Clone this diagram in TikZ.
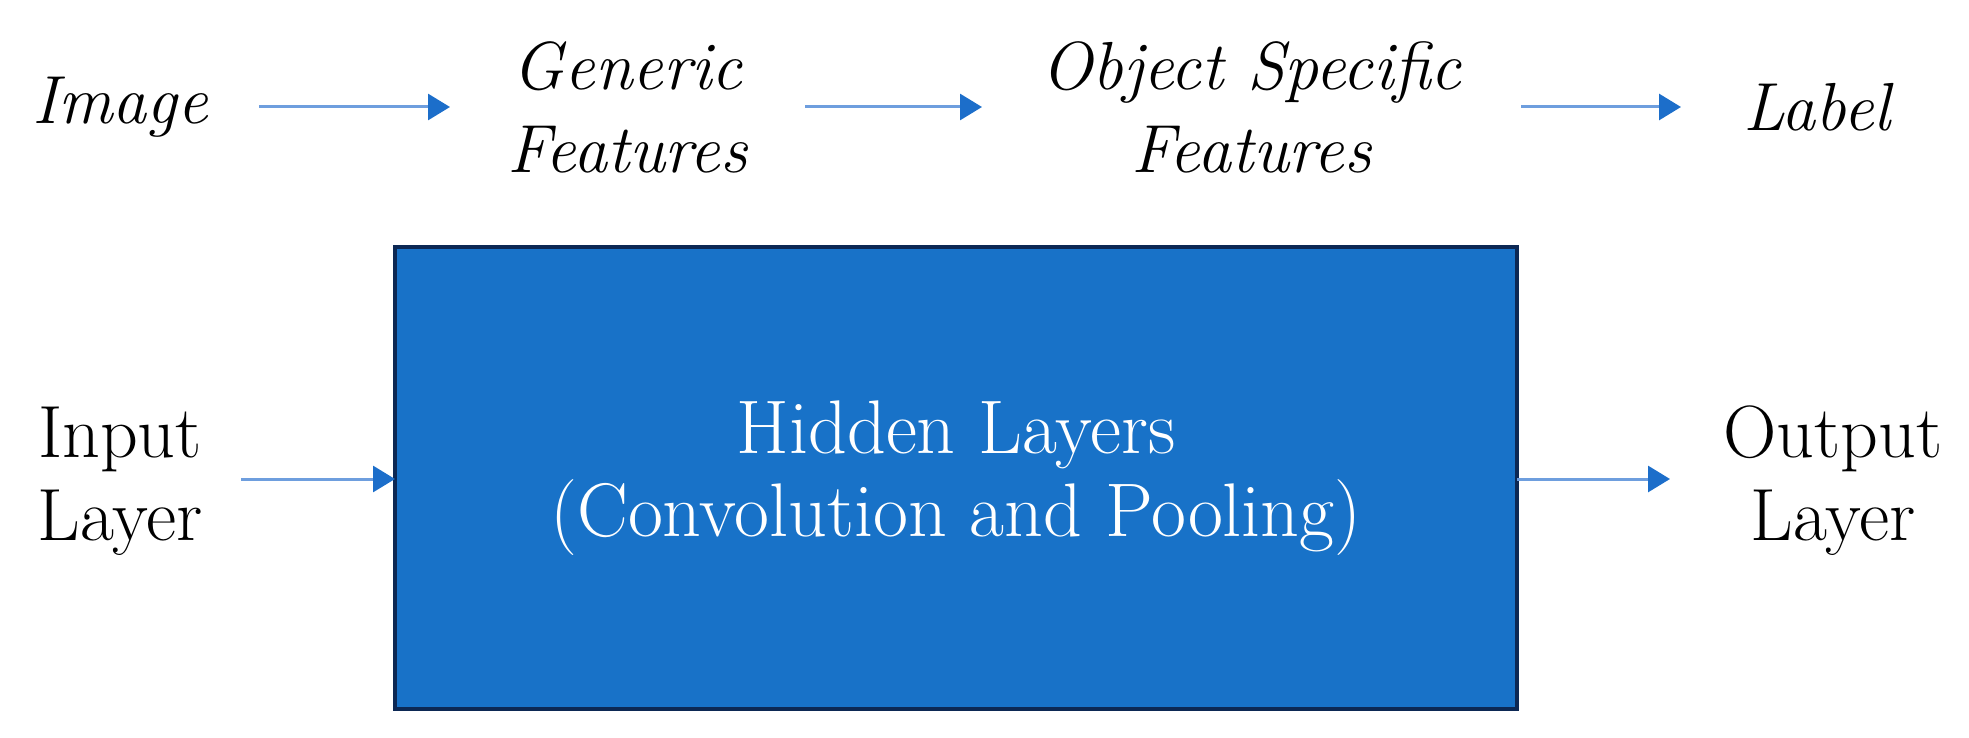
\documentclass[tikz,border=0pt]{standalone}
\usetikzlibrary{arrows.meta}
\definecolor{boxfill}{RGB}{24,114,200}
\definecolor{boxline}{RGB}{12,40,84}
\definecolor{arrline}{RGB}{110,158,222}
\definecolor{arrtip}{RGB}{28,110,202}
\tikzset{
  lbl/.style={inner sep=0pt, outer sep=0pt, align=center, font=\fontsize{37}{41.5}\selectfont},
  ilbl/.style={lbl, font=\fontsize{34}{41.5}\selectfont\itshape},
  flow/.style={draw=arrline, line width=1.5pt, -{Triangle[length=11pt,width=13pt,color=arrtip]}},
  hidbox/.style={draw=boxline, fill=boxfill, line width=2pt, inner sep=0pt, outer sep=0pt, text=white, align=center, font=\fontsize{38}{41.5}\selectfont}
}
\begin{document}
\begin{tikzpicture}[x=0.5pt,y=-0.5pt]
\useasboundingbox (0,0) rectangle (1969,738);
% top row
\node[ilbl, minimum width=139pt] (img) at (120,107) {Image};
\node[ilbl, minimum width=177.5pt] (gen) at (627.5,107) {Generic\\Features};
\node[ilbl, minimum width=269.5pt] (obj) at (1251.5,107) {Object Specific\\Features};
\node[ilbl, minimum width=136pt] (lab) at (1817,107) {Label};
\draw[flow] (img.east) -- (gen.west);
\draw[flow] (gen.east) -- (obj.west);
\draw[flow] (obj.east) -- (lab.west);
% bottom row
\node[lbl, minimum width=121pt] (inp) at (120,481) {Input\\Layer};
\node[hidbox, minimum width=561pt, minimum height=231pt] (hid) at (956,478) {Hidden Layers\\(Convolution and Pooling)};
\node[lbl, minimum width=163pt] (out) at (1833,481) {Output\\Layer};
\draw[flow] (inp.east |- 0,479) -- (hid.west |- 0,479);
\draw[flow] (hid.east |- 0,479) -- (out.west |- 0,479);
\end{tikzpicture}
\end{document}
